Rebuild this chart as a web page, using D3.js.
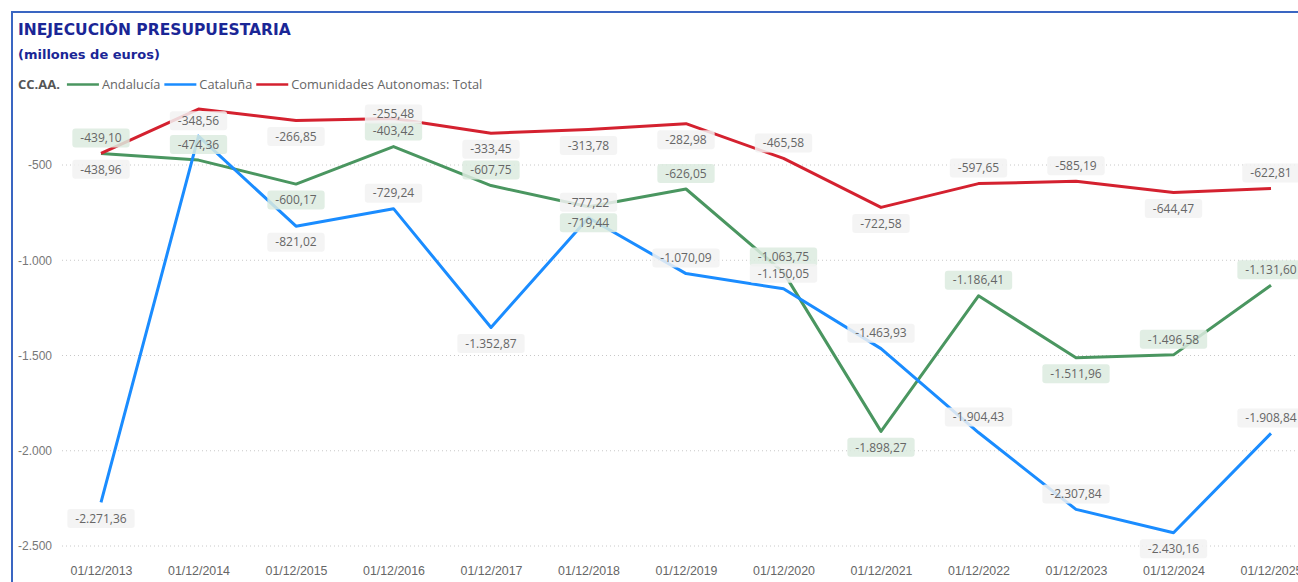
<!DOCTYPE html>
<html>
<head>
<meta charset="utf-8">
<script src="https://cdn.jsdelivr.net/npm/d3@7"></script>
<style>
  html, body { margin: 0; padding: 0; background: #fff; }
  svg { display: block; font-family: "Segoe UI", "Open Sans", sans-serif; }
</style>
</head>
<body>
<div id="chart"></div>
<script>
// fechas del eje X
const fechas = ['01/12/2013', '01/12/2014', '01/12/2015', '01/12/2016', '01/12/2017', '01/12/2018',
  '01/12/2019', '01/12/2020', '01/12/2021', '01/12/2022', '01/12/2023', '01/12/2024', '01/12/2025'];

const andalucia = [-439.10, -474.36, -600.17, -403.42, -607.75, -719.44, -626.05,
  -1063.75, -1898.27, -1186.41, -1511.96, -1496.58, -1131.60];
const cataluna = [-2271.36, -348.56, -821.02, -729.24, -1352.87, -777.22, -1070.09,
  -1150.05, -1463.93, -1904.43, -2307.84, -2430.16, -1908.84];
const total = [-438.96, -206.2, -266.85, -255.48, -333.45, -313.78, -282.98,
  -465.58, -722.58, -597.65, -585.19, -644.47, -622.81];

const yTicks = [-2500, -2000, -1500, -1000, -500];

// a = etiqueta encima, b = debajo, '' = oculta
const andaluciaLado = ['a', 'a', 'b', 'a', 'a', 'b', 'a', 'a', 'b', 'a', 'b', 'a', 'a'];
const catalunaLado = ['b', 'a', 'b', 'a', 'b', 'a', 'a', 'a', 'a', 'a', 'a', 'b', 'a'];
const totalLado = ['b', '', 'b', 'a', 'b', 'b', 'b', 'a', 'b', 'a', 'a', 'b', 'a'];

const width = 1298, height = 582;

const es = d3.formatLocale({
  decimal: ',',
  thousands: '.',
  grouping: [3],
  currency: ['', ' €'],
  minus: '-'
});
const fmtLabel = es.format(',.2f');
const fmtTick = es.format(',.0f');

const series = [
  { name: 'Andalucía', values: andalucia, lado: andaluciaLado, color: '#4a9660', box: '#dcebdf' },
  { name: 'Cataluña', values: cataluna, lado: catalunaLado, color: '#1a8cff', box: '#f2f2f2' },
  { name: 'Comunidades Autonomas: Total', values: total, lado: totalLado, color: '#d4212f', box: '#f2f2f2' }
];

const svg = d3.select('#chart').append('svg')
  .attr('width', width)
  .attr('height', height);

// marco
svg.append('path')
  .attr('d', `M12,${height} L12,12 L${width},12`)
  .attr('fill', 'none')
  .attr('stroke', '#3a66c2')
  .attr('stroke-width', 2);

svg.append('text')
  .attr('x', 18).attr('y', 35)
  .attr('font-family', '"DejaVu Sans", Verdana, sans-serif')
  .attr('font-weight', 'bold')
  .attr('font-size', 15.5)
  .attr('fill', '#1a2696')
  .text('INEJECUCIÓN PRESUPUESTARIA');

svg.append('text')
  .attr('x', 18).attr('y', 59)
  .attr('font-family', '"DejaVu Sans", Verdana, sans-serif')
  .attr('font-weight', 'bold')
  .attr('font-size', 13)
  .attr('fill', '#1a2696')
  .text('(millones de euros)');

// leyenda
const legend = svg.append('g').attr('transform', 'translate(18,89)');
const legTitle = legend.append('text')
  .attr('font-size', 13).attr('font-weight', 'bold').attr('fill', '#555')
  .text('CC.AA.');
let lx = legTitle.node().getComputedTextLength() + 7;
series.forEach(s => {
  legend.append('line')
    .attr('x1', lx).attr('x2', lx + 32)
    .attr('y1', -4.5).attr('y2', -4.5)
    .attr('stroke', s.color).attr('stroke-width', 2.5);
  const t = legend.append('text')
    .attr('x', lx + 35)
    .attr('font-size', 12.8).attr('fill', '#666')
    .text(s.name);
  lx += 35 + t.node().getComputedTextLength() + 4;
});

const x = d3.scalePoint()
  .domain(fechas)
  .range([101, 1271]);

const y = d3.scaleLinear()
  .domain([-2500, -500])
  .range([546, 165]);

// rejilla y eje Y
const yAxis = svg.append('g')
  .attr('transform', 'translate(62,0)')
  .call(d3.axisLeft(y).tickValues(yTicks).tickFormat(fmtTick).tickSize(0).tickPadding(10));
yAxis.select('.domain').remove();
yAxis.selectAll('text').attr('font-size', 12).attr('fill', '#777').attr('font-family', null);

svg.append('g')
  .selectAll('line')
  .data(yTicks)
  .join('line')
  .attr('x1', 62).attr('x2', width)
  .attr('y1', d => y(d)).attr('y2', d => y(d))
  .attr('stroke', '#c8c8c8')
  .attr('stroke-width', 1)
  .attr('stroke-dasharray', '1,3');

// eje X
const xAxis = svg.append('g')
  .attr('transform', 'translate(0,566)')
  .call(d3.axisBottom(x).tickSize(0).tickPadding(0));
xAxis.select('.domain').remove();
xAxis.selectAll('text')
  .attr('dy', '0.71em')
  .attr('font-size', 12.4).attr('fill', '#666').attr('font-family', null);

// lineas
const line = d3.line()
  .x((d, i) => x(fechas[i]))
  .y(d => y(d));

series.forEach(s => {
  svg.append('path')
    .datum(s.values)
    .attr('fill', 'none')
    .attr('stroke', s.color)
    .attr('stroke-width', 3)
    .attr('stroke-linejoin', 'round')
    .attr('d', line);
});

// etiquetas de datos
const labels = svg.append('g');
series.forEach(s => {
  s.values.forEach((v, i) => {
    if (!s.lado[i]) return;
    let cy = y(v) + (s.lado[i] === 'a' ? -15.5 : 16);
    // solapamiento con la etiqueta de Andalucía en 2016
    if (s.name.startsWith('Comunidades') && i === 3) cy = 114;
    const g = labels.append('g').attr('transform', `translate(${x(fechas[i])},${cy})`);
    const t = g.append('text')
      .attr('text-anchor', 'middle')
      .attr('dy', '0.35em')
      .attr('font-size', 12)
      .attr('fill', '#666')
      .text(fmtLabel(v));
    const w = t.node().getComputedTextLength() + 16;
    g.insert('rect', 'text')
      .attr('x', -w / 2).attr('y', -9.5)
      .attr('width', w).attr('height', 19)
      .attr('rx', 3)
      .attr('fill', s.box)
      .attr('fill-opacity', 0.85);
  });
});
</script>
</body>
</html>
